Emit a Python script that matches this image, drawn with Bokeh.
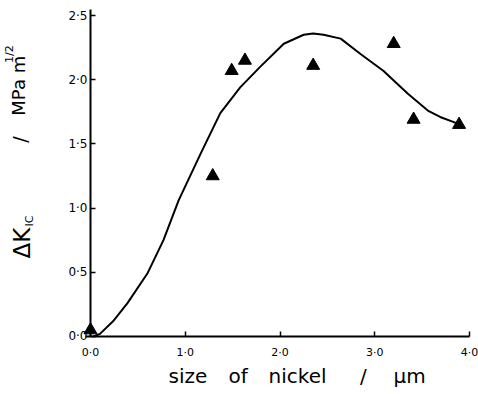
import math
from bokeh.plotting import figure
from bokeh.models import FixedTicker, CustomJSTickFormatter, Label
from bokeh.embed import file_html
from bokeh.resources import INLINE

# measured triangles: size of nickel (um) vs Delta K_Ic (MPa m^1/2)
point_x = [0.0, 1.29, 1.49, 1.63, 2.35, 3.20, 3.41, 3.89]
point_y = [0.05, 1.25, 2.07, 2.15, 2.11, 2.28, 1.69, 1.65]

# hand-drawn trend curve
curve_x = [0.03, 0.10, 0.24, 0.39, 0.60, 0.77, 0.93, 1.16, 1.37, 1.58, 1.79,
           2.04, 2.25, 2.35, 2.46, 2.64, 2.85, 3.09, 3.35, 3.56, 3.69, 3.87]
curve_y = [0.00, 0.02, 0.12, 0.26, 0.49, 0.75, 1.06, 1.42, 1.74, 1.94, 2.10,
           2.28, 2.35, 2.36, 2.35, 2.32, 2.20, 2.07, 1.89, 1.76, 1.71, 1.66]

x_ticks = [0, 1, 2, 3, 4]
y_ticks = [0, 0.5, 1.0, 1.5, 2.0, 2.5]

p = figure(width=478, height=394, output_backend="svg", toolbar_location=None,
           x_range=(-0.950, 4.095), y_range=(-0.452, 2.617),
           min_border_left=0, min_border_right=0, min_border_top=0, min_border_bottom=0)
p.outline_line_color = None
p.grid.visible = False
p.background_fill_color = "white"
p.border_fill_color = "white"

fmt = CustomJSTickFormatter(code="return tick.toFixed(1).replace('.', '\u00b7');")

for ax, ticks, bounds in ((p.xaxis[0], x_ticks, (-0.05, 4.0)), (p.yaxis[0], y_ticks, (0, 2.55))):
    ax.fixed_location = 0
    ax.bounds = bounds
    ax.ticker = FixedTicker(ticks=ticks)
    ax.formatter = fmt
    ax.axis_line_width = 2
    ax.axis_line_color = "black"
    ax.major_tick_in = 5
    ax.major_tick_out = 0
    ax.major_tick_line_width = 1.5
    ax.major_tick_line_color = "black"
    ax.minor_tick_line_color = None
    ax.major_label_text_font = "DejaVu Sans"
    ax.major_label_text_color = "black"

p.xaxis.major_label_text_font_size = "11px"
p.xaxis.major_label_standoff = 10
p.yaxis.major_label_text_font_size = "12px"
p.yaxis.major_label_standoff = 3

p.line(curve_x, curve_y, line_color="black", line_width=2)
p.scatter(point_x, point_y, marker="triangle", size=13, fill_color="black", line_color="black")

def lab(text, x, y, size, angle=0.0, align="left", baseline="alphabetic"):
    p.add_layout(Label(x=x, y=y, text=text, text_font="DejaVu Sans", text_font_size=size,
                       text_color="black", angle=angle, text_align=align,
                       text_baseline=baseline))

# x axis title words
ty = -0.311
lab("size", 0.823, ty, "20px")
lab("of", 1.456, ty, "20px")
lab("nickel", 1.879, ty, "20px")
lab("/", 2.881, ty, "20px", align="center")
lab("\u03bcm", 3.197, ty, "20px")

# y axis title pieces (rotated)
r = math.pi / 2
lab("\u0394K", -0.72, 0.607, "23px", angle=r, baseline="middle")
lab("IC", -0.64, 0.857, "11px", angle=r, baseline="middle")
lab("/", -0.74, 1.534, "19px", angle=r, align="center", baseline="middle")
lab("MPa m", -0.76, 1.72, "18px", angle=r, baseline="middle")
lab("1/2", -0.85, 2.13, "11px", angle=r, baseline="middle")

open("out.html", "w").write(file_html(p, INLINE))
